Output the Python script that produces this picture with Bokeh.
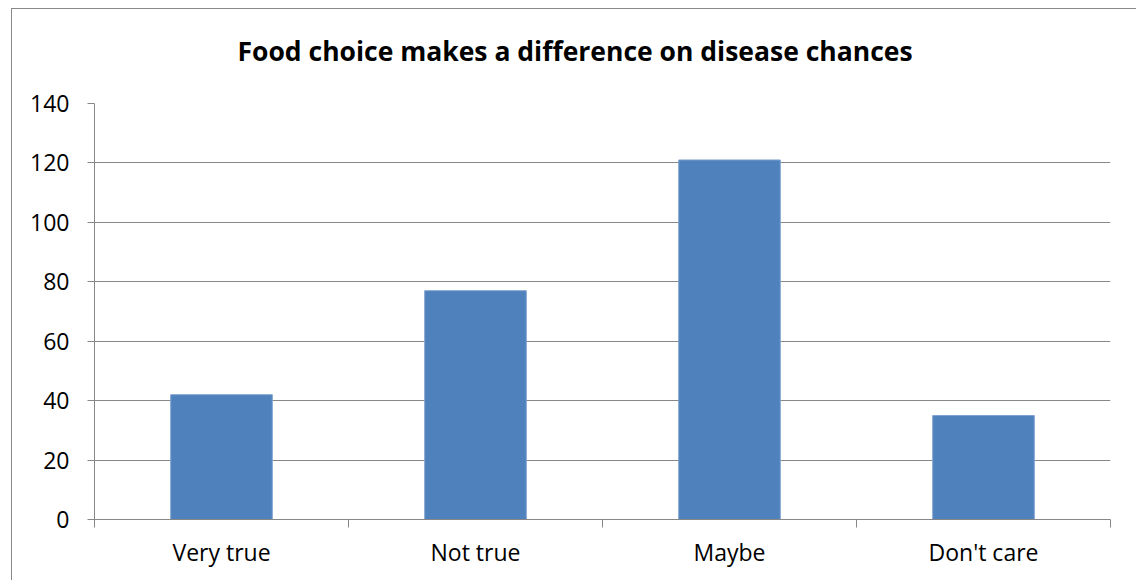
from bokeh.plotting import figure
from bokeh.models import ColumnDataSource, FixedTicker, Range1d, Title
from bokeh.embed import file_html
from bokeh.resources import INLINE

# Data
title_text = "Food choice makes a difference on disease chances"
categories = ["Very true", "Not true", "Maybe", "Don't care"]
counts = [42, 77, 121, 35]
y_ticks = [0, 20, 40, 60, 80, 100, 120, 140]

centers = [i + 0.5 for i in range(len(categories))]
boundaries = list(range(len(categories) + 1))

src = ColumnDataSource(dict(x=centers, top=counts, cat=categories))

p = figure(width=1125, height=572, output_backend="svg", toolbar_location=None,
           x_range=Range1d(0, len(categories)), y_range=Range1d(0, 140),
           min_border_left=82, min_border_right=27, min_border_top=93, min_border_bottom=62,
           title=title_text)

p.margin = (8, 0, 0, 11)
p.styles = {"border-left": "1px solid #888888", "border-top": "1px solid #888888"}

# small spacer between title and plot frame
spacer = Title(text=" ", text_font_size="1px", standoff=11)
p.add_layout(spacer, "above")

p.vbar(x="x", top="top", width=0.4, bottom=0, source=src,
       fill_color="#4F81BD", line_color="#7FA3D0", line_width=1)

gray = "#878787"

# Title
p.title.align = "left"
p.title.offset = 143
p.title.standoff = 42
p.title.text_font = "Open Sans"
p.title.text_font_size = "26.5px"
p.title.text_font_style = "bold"
p.title.text_color = "black"

# X axis
xa = p.xaxis[0]
xa.ticker = FixedTicker(ticks=centers, minor_ticks=boundaries)
xa.major_label_overrides = {c: lab for c, lab in zip(centers, categories)}
xa.major_tick_out = 0
xa.major_tick_in = 0
xa.minor_tick_out = 8
xa.minor_tick_in = 0
xa.minor_tick_line_color = gray
xa.axis_line_color = gray
xa.major_label_standoff = 8
xa.major_label_text_font = "Open Sans"
xa.major_label_text_font_size = "23px"
xa.major_label_text_color = "black"

# Y axis
ya = p.yaxis[0]
ya.ticker = FixedTicker(ticks=y_ticks, minor_ticks=[])
ya.major_tick_out = 7
ya.major_tick_in = 0
ya.major_tick_line_color = gray
ya.axis_line_color = gray
ya.major_label_standoff = 18
ya.major_label_text_font = "Open Sans"
ya.major_label_text_font_size = "23px"
ya.major_label_text_color = "black"

p.xgrid.grid_line_color = None
p.ygrid.ticker = FixedTicker(ticks=y_ticks)
p.ygrid.grid_line_color = gray
p.ygrid.grid_line_width = 1

p.outline_line_color = None
p.background_fill_color = "white"
p.border_fill_color = "white"

open("out.html", "w").write(file_html(p, INLINE))
